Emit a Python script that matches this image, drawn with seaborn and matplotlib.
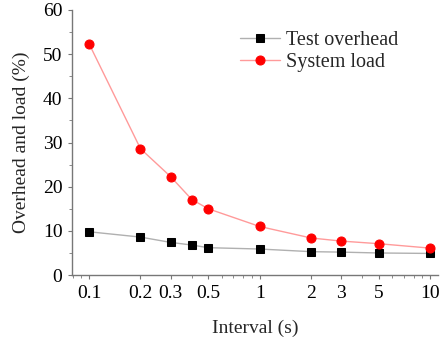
import matplotlib
matplotlib.use("Agg")
import matplotlib.pyplot as plt
import seaborn as sns
import pandas as pd
from matplotlib.ticker import FixedLocator, NullFormatter, MultipleLocator

intervals = [0.1, 0.2, 0.3, 0.4, 0.5, 1, 2, 3, 5, 10]
test_overhead = [9.8, 8.6, 7.4, 6.8, 6.2, 5.9, 5.3, 5.2, 5.0, 4.9]
system_load = [52.3, 28.6, 22.3, 17.1, 15.0, 11.0, 8.4, 7.7, 7.1, 6.1]
xticks = [0.1, 0.2, 0.3, 0.5, 1, 2, 3, 5, 10]
xtick_labels = ["0.1", "0.2", "0.3", "0.5", "1", "2", "3", "5", "10"]
yticks = [0, 10, 20, 30, 40, 50, 60]

sns.set_style("ticks")
plt.rcParams['font.family'] = ['Liberation Serif', 'DejaVu Serif']

df = pd.DataFrame({"x": intervals, "overhead": test_overhead, "load": system_load})

fig = plt.figure(figsize=(4.45, 3.43), dpi=100)
ax = fig.add_axes([0.162, 0.198, 0.822, 0.773])

sns.lineplot(data=df, x="x", y="overhead", ax=ax, color="#b0b0b0", lw=1.0,
             marker="s", markersize=5.5, markerfacecolor="black",
             markeredgecolor="black", label="Test overhead")
sns.lineplot(data=df, x="x", y="load", ax=ax, color="#ff9a9a", lw=1.0,
             marker="o", markersize=6.5, markerfacecolor="red",
             markeredgecolor="red", label="System load")

ax.set_xscale("log")
ax.set_xlim(0.0794, 11.1)
ax.set_ylim(0, 60)
ax.xaxis.set_major_locator(FixedLocator(xticks))
ax.set_xticklabels(xtick_labels)
ax.xaxis.set_minor_formatter(NullFormatter())
ax.set_yticks(yticks)
ax.yaxis.set_minor_locator(MultipleLocator(5))

for s in ["top", "right"]:
    ax.spines[s].set_visible(False)
for s in ["left", "bottom"]:
    ax.spines[s].set_color("#777777")
    ax.spines[s].set_linewidth(1.0)
ax.tick_params(which="both", color="#777777", direction="out")
ax.tick_params(which="major", length=3, labelsize=14, labelcolor="black", pad=4)
ax.tick_params(which="minor", length=2)

ax.set_xlabel("Interval (s)", fontsize=14, labelpad=13)
ax.set_ylabel("Overhead and load (%)", fontsize=14, labelpad=9)

leg = ax.legend(loc="upper left", bbox_to_anchor=(0.436, 0.952), frameon=False,
                fontsize=14.5, handlelength=2.0, handletextpad=0.3,
                labelspacing=0.15, borderaxespad=0)

fig.savefig("out.png", dpi=100)
